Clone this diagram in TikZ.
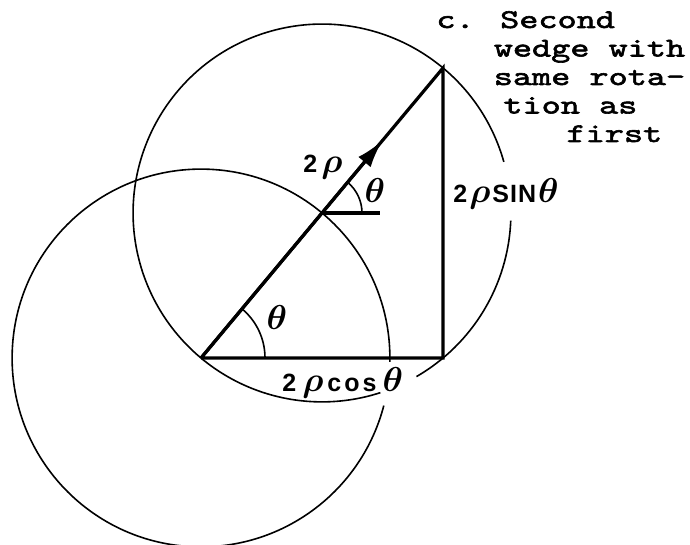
\documentclass[tikz,border=0pt]{standalone}
\usepackage{fontspec}
\usepackage{bm}
\setsansfont{Liberation Sans}
\newfontfamily\typewriter[Extension=.otf, FakeStretch=1.35, FakeBold=2.2]{lmmono10-regular}
\usetikzlibrary{arrows.meta, calc}

\newcommand{\gk}[1]{{\fontsize{17.28}{20}\selectfont$\bm{#1}$}}
\newcommand{\cols}[1]{\hspace*{#1\fontcharwd\font`x}}

\tikzset{
  thin line/.style={line width=0.8pt},
  thick line/.style={line width=1.6pt},
  letter/.style={anchor=base west, inner sep=0pt, font=\fontsize{12.5}{14}\sffamily\bfseries},
  angle mark/.style={inner sep=0pt, font=\fontsize{17.28}{20}\selectfont},
  note/.style={anchor=base west, inner sep=0pt, align=left, font=\fontsize{13.5}{14.25}\typewriter}
}

\begin{document}
\begin{tikzpicture}[x=0.5pt, y=0.5pt]
    \useasboundingbox (0,0) rectangle (690,545);

    % Vertici
    \coordinate (A) at (201,187);
    \coordinate (B) at (443,187);
    \coordinate (C) at (443,477);
    \coordinate (M) at ($(A)!0.5!(C)$);
    \coordinate (tip) at ($(A)!0.75!(C)$);
    \coordinate (Mr) at ($(M)+(58,0)$);

    % Cerchi
    \draw[thin line] ($(M)+(15.7:188.9)$) arc[start angle=15.7, end angle=288, radius=188.9];
    \draw[thin line] ($(M)+(300:188.9)$) arc[start angle=300, end angle=357.7, radius=188.9];
    \draw[thin line] ($(A)+(-1.2:188.9)$) arc[start angle=-1.2, end angle=345.4, radius=188.9];

    % Cuneo
    \draw[thick line] (A) -- (B) -- (C) -- (A);
    \draw[thick line, -{Latex[length=14pt, width=8pt]}] (A) -- (tip);
    \draw[thick line] (M) -- (Mr);
    \draw[thin line] ($(A)+(64,0)$) arc[start angle=0, end angle=50.16, radius=64];
    \draw[thin line] ($(M)+(40,0)$) arc[start angle=0, end angle=50.16, radius=40];

    % Etichette
    \node[angle mark] (thA) at (277,227) {\gk{\theta}};
    \node[angle mark] (thM) at (375,354) {\gk{\theta}};
    \node[letter] (lblrho) at (303,372) {2\hspace{2pt}\gk{\rho}};
    \node[letter] (lblcos) at (282,153) {2\hspace{3pt}\gk{\rho}\hspace{2pt}c\kern1.5pt o\kern1.5pt s\hspace{3pt}\gk{\theta}};
    \node[letter] (lblsin) at (453,342) {2\hspace{1pt}\gk{\rho}\hspace{1pt}S\kern0.5pt I\kern0.5pt N\hspace{1pt}\gk{\theta}};

    % Nota (ancorata alla base dell'ultima riga)
    \node[note] (note) at (436,403) {c. Second\\
      \cols{3}wedge with\\
      \cols{3}same rota-\\
      \cols{3.5}tion as\\
      \cols{6.8}first};
\end{tikzpicture}
\end{document}
